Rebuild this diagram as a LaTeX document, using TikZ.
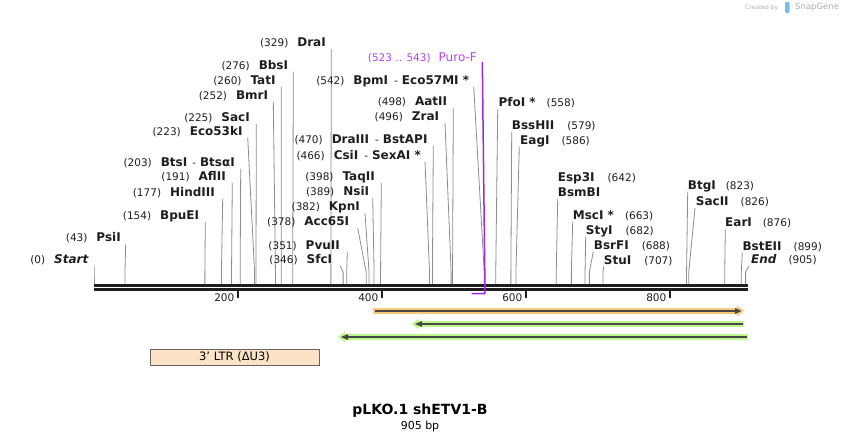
\documentclass[tikz,border=0pt]{standalone}
\usepackage{fontspec}
\setmainfont{DejaVu Sans}
\definecolor{linegray}{RGB}{140,140,140}
\definecolor{numtext}{RGB}{30,30,30}
\definecolor{bbone}{RGB}{30,30,30}
\definecolor{orangeband}{RGB}{250,200,122}
\definecolor{greenband}{RGB}{192,245,140}
\definecolor{featdark}{RGB}{72,72,72}
\definecolor{ltrfill}{RGB}{253,227,198}
\definecolor{ltrdraw}{RGB}{100,100,100}
\definecolor{purotext}{RGB}{178,70,240}
\definecolor{puroline}{RGB}{155,40,230}
\definecolor{logogray}{RGB}{175,175,175}
\definecolor{logoblue}{RGB}{120,190,235}
\newcommand\nmf[1]{{\fontsize{12}{14}\selectfont\bfseries #1}}
\newcommand\enzL[6]{%
  \node[lbl, anchor=base east] (L#1) at (#4, #3+4) {#6};
  \coordinate (T#1) at (#5, #3+6.5);
  \coordinate (B#1) at ({94+0.72*#2}, 272);
  \coordinate (S#1) at ({94+0.72*#2}, 284);
  \draw[cline] (T#1) -- (B#1) -- (S#1);
}
\newcommand\enzR[6]{%
  \node[lbl, anchor=base west] (L#1) at (#4, #3+4) {#6};
  \coordinate (T#1) at (#5, #3+6.5);
  \coordinate (B#1) at ({94+0.72*#2}, 272);
  \coordinate (S#1) at ({94+0.72*#2}, 284);
  \draw[cline] (T#1) -- (B#1) -- (S#1);
}
\begin{document}
\begin{tikzpicture}[x=1pt,y=-1pt,
  lbl/.style={inner sep=0pt, font=\fontsize{10.5}{12}\selectfont, text=numtext},
  cline/.style={draw=linegray, line width=0.8pt},
  bbline/.style={draw=bbone, line width=2.6pt},
  tick/.style={draw=bbone, line width=2pt},
  ticklbl/.style={inner sep=0pt, anchor=base east, font=\fontsize{10.5}{12}\selectfont, text=numtext},
  featline/.style={draw=featdark, line width=1.8pt},
  ltrbox/.style={draw=ltrdraw, fill=ltrfill, line width=0.9pt, inner sep=0pt, minimum width=169pt, minimum height=16pt, font=\fontsize{11.5}{13}\selectfont}
]
\useasboundingbox (0,0) rectangle (842,442);

% logo
\node[inner sep=0pt, anchor=west, text=logogray, font=\fontsize{6}{7}\selectfont] (logoA) at (745,7.5) {Created by};
\fill[logoblue, rounded corners=1pt] (785,2) rectangle (789.5,13);
\node[inner sep=0pt, anchor=west, text=logogray, font=\fontsize{8.5}{10}\selectfont] (logoB) at (795,7.5) {SnapGene};

% backbone
\coordinate (bb1a) at (94,285.6); \coordinate (bb1b) at (748,285.6);
\coordinate (bb2a) at (94,289.3); \coordinate (bb2b) at (748,289.3);
\draw[bbline] (bb1a) -- (bb1b);
\draw[bbline] (bb2a) -- (bb2b);

% ticks
\foreach \v/\xx in {200/238,400/382,600/526,800/670}{
  \coordinate (tk\v a) at (\xx,290.5);
  \coordinate (tk\v b) at (\xx,297.5);
  \draw[tick] (tk\v a) -- (tk\v b);
  \node[ticklbl] (tl\v) at (\xx-3.5,301) {\v};
}

% enzymes left
\enzL{start}{0}{259.3}{88.5}{94}{(0)\hspace{9pt}\nmf{\itshape Start}}
\enzL{psi}{43}{237.3}{121}{125.7}{(43)\hspace{9pt}\nmf{PsiI}}
\enzL{bpu}{154}{215.7}{199.3}{205.3}{(154)\hspace{9pt}\nmf{BpuEI}}
\enzL{hind}{177}{192.3}{215}{222.7}{(177)\hspace{9pt}\nmf{HindIII}}
\enzL{afl}{191}{176.7}{226}{232.3}{(191)\hspace{9pt}\nmf{AflII}}
\enzL{bts}{203}{162.3}{235}{240.7}{(203)\hspace{9pt}\nmf{BtsI}\hspace{5pt}-\hspace{4pt}\nmf{BtsαI}}
\enzL{ecok}{223}{131}{242.7}{247.7}{(223)\hspace{9pt}\nmf{Eco53kI}}
\enzL{sac}{225}{117.3}{250}{256.3}{(225)\hspace{9pt}\nmf{SacI}}
\enzL{bmr}{252}{95}{268.3}{273.3}{(252)\hspace{9pt}\nmf{BmrI}}
\enzL{tat}{260}{80}{275.7}{281.3}{(260)\hspace{9pt}\nmf{TatI}}
\enzL{bbs}{276}{65}{288.3}{293.3}{(276)\hspace{9pt}\nmf{BbsI}}
\enzL{dra}{329}{42.3}{326}{331.3}{(329)\hspace{9pt}\nmf{DraI}}
\enzL{sfc}{346}{259.3}{332.3}{340}{(346)\hspace{9pt}\nmf{SfcI}}
\enzL{pvu}{351}{245}{340}{347.3}{(351)\hspace{9pt}\nmf{PvuII}}
\enzL{acc}{378}{221.7}{349.3}{357.7}{(378)\hspace{9pt}\nmf{Acc65I}}
\enzL{kpn}{382}{206.7}{360}{365}{(382)\hspace{9pt}\nmf{KpnI}}
\enzL{nsi}{389}{191.7}{369.3}{372.7}{(389)\hspace{9pt}\nmf{NsiI}}
\enzL{taq}{398}{176.7}{375}{381.3}{(398)\hspace{9pt}\nmf{TaqII}}
\enzL{csi}{466}{155}{421}{425}{(466)\hspace{9pt}\nmf{CsiI}\hspace{6pt}-\hspace{4pt}\nmf{SexAI *}}
\enzL{draiii}{470}{139.3}{427.7}{433.3}{(470)\hspace{9pt}\nmf{DraIII}\hspace{6pt}-\hspace{4pt}\nmf{BstAPI}}
\enzL{zra}{496}{116.7}{439.3}{445}{(496)\hspace{9pt}\nmf{ZraI}}
\enzL{aat}{498}{101.7}{447.3}{453.3}{(498)\hspace{9pt}\nmf{AatII}}
\enzL{bpm}{542}{80}{469.3}{473.7}{(542)\hspace{9pt}\nmf{BpmI}\hspace{6pt}-\hspace{4pt}\nmf{Eco57MI *}}

% enzymes right
\enzR{pfo}{558}{102.7}{498.3}{497.7}{\nmf{PfoI *}\hspace{11pt}(558)}
\enzR{bss}{579}{125}{511.7}{511.7}{\nmf{BssHII}\hspace{13pt}(579)}
\enzR{eag}{586}{140}{520}{519.3}{\nmf{EagI}\hspace{12pt}(586)}
\node[lbl, anchor=base west] (Lesp) at (557.7,181.3) {\nmf{Esp3I}\hspace{13pt}(642)};
\enzR{bsmb}{642}{192.3}{557.7}{557.7}{\nmf{BsmBI}}
\enzR{msc}{663}{215}{572.7}{572.7}{\nmf{MscI *}\hspace{11pt}(663)}
\enzR{sty}{682}{230}{585.7}{585.7}{\nmf{StyI}\hspace{13pt}(682)}
\enzR{bsrf}{688}{245}{593.7}{593.3}{\nmf{BsrFI}\hspace{13pt}(688)}
\enzR{stu}{707}{260}{603.7}{603.7}{\nmf{StuI}\hspace{13pt}(707)}
\enzR{btg}{823}{185}{687.7}{687.7}{\nmf{BtgI}\hspace{10pt}(823)}
\enzR{sacii}{826}{201.7}{695.7}{695}{\nmf{SacII}\hspace{12pt}(826)}
\enzR{ear}{876}{222.3}{725}{725.3}{\nmf{EarI}\hspace{11pt}(876)}
\enzR{bste}{899}{246}{742.3}{742.3}{\nmf{BstEII}\hspace{12pt}(899)}
\enzR{end}{905}{259.3}{751}{749}{\nmf{\itshape End}\hspace{12pt}(905)}

% Puro-F primer
\node[inner sep=0pt, anchor=base east, text=purotext, font=\fontsize{10.5}{12}\selectfont] (Lpuro) at (477,61) {(523 .. 543)\hspace{8pt}{\fontsize{12}{14}\selectfont Puro-F}};
\coordinate (Tpuro) at (482.3,62);
\coordinate (Mpuro) at (484.8,273);
\coordinate (Cpuro) at (484.8,293.5);
\coordinate (Epuro) at (471.5,293.5);
\draw[draw=puroline, line width=1.5pt] (Tpuro) -- (Mpuro) -- (Cpuro) -- (Epuro);

% features
% orange forward arrow
\coordinate (oA) at (373,311); \coordinate (oB) at (744,311);
\fill[orangeband] (373,308) -- (737,308) -- (737,305.5) -- (744,311) -- (737,316.5) -- (737,314) -- (373,314) -- cycle;
\draw[featline] (375,311) -- (736,311);
\fill[featdark] (735,308) -- (741.5,311) -- (735,314) -- cycle;
% green reverse 1
\fill[greenband] (744,321) -- (419,321) -- (419,318.5) -- (412,324) -- (419,329.5) -- (419,327) -- (744,327) -- cycle;
\draw[featline] (742.5,324) -- (421,324);
\fill[featdark] (422,321) -- (415,324) -- (422,327) -- cycle;
% green reverse 2
\fill[greenband] (748,334) -- (345,334) -- (345,331.5) -- (338,337) -- (345,342.5) -- (345,340) -- (748,340) -- cycle;
\draw[featline] (746.5,337) -- (347,337);
\fill[featdark] (348,334) -- (341,337) -- (348,340) -- cycle;

% LTR feature
\node[ltrbox] (ltr) at (234.5,357) {3{\char"27} LTR (ΔU3)};

% title
\node[inner sep=0pt, font=\fontsize{14}{16}\selectfont\bfseries] (title) at (420,411) {pLKO.1 shETV1-B};
\node[inner sep=0pt, font=\fontsize{11}{13}\selectfont] (bp) at (420,426) {905 bp};
\end{tikzpicture}
\end{document}
